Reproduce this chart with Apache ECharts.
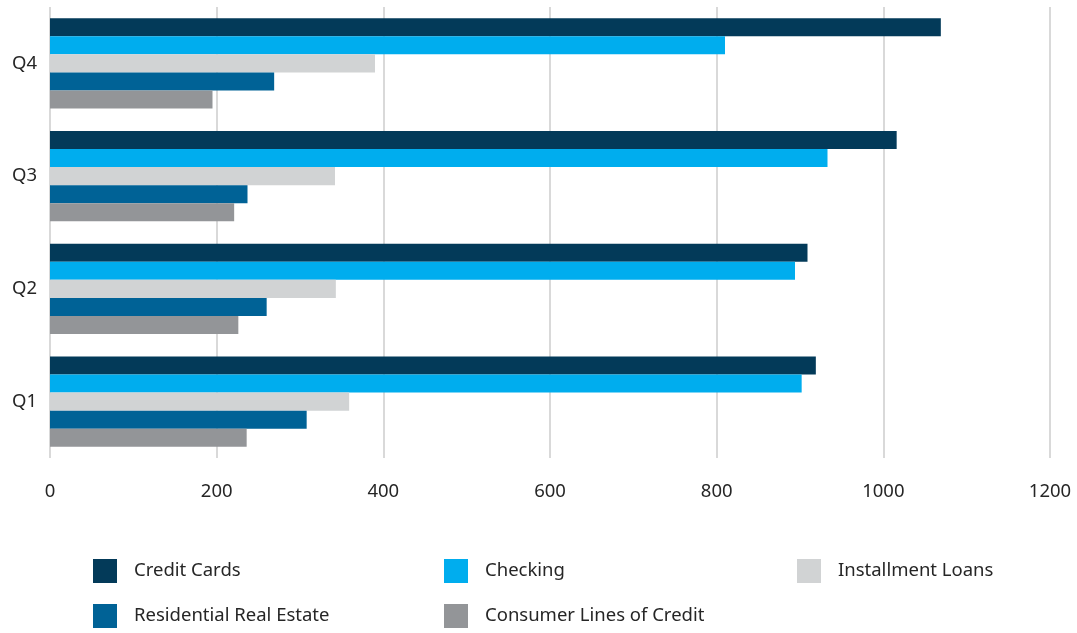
<!DOCTYPE html>
<html>
<head>
<meta charset="utf-8">
<script src="https://cdn.jsdelivr.net/npm/echarts@6/dist/echarts.min.js"></script>
<style>
	html, body { margin: 0; padding: 0; background: #fff; }
	#chart { width: 1077px; height: 633px; }
</style>
</head>
<body>
<div id="chart"></div>
<script>
// 数据
const quarters = ['Q4', 'Q3', 'Q2', 'Q1'];
const creditCards = [1069, 1016, 909, 919];
const checking = [810, 933, 894, 902];
const installmentLoans = [390, 342, 343, 359];
const residentialRealEstate = [269, 237, 260, 308];
const consumerLines = [195, 221, 226, 236];
const xTicks = [0, 200, 400, 600, 800, 1000, 1200];

const font = 'Noto Sans';
const textColor = '#262626';

const myChart = echarts.init(document.getElementById('chart'));

// 图例，每项单独定位
const legendItem = (left, top, name) => ({
	left: left,
	top: top,
	itemWidth: 24,
	itemHeight: 24,
	icon: 'rect',
	selectedMode: false,
	data: [name],
	textStyle: {
		fontFamily: font,
		fontSize: 18.5,
		color: textColor,
		padding: [2, 0, 0, 12],
	},
});

const barSeries = (name, data, color) => ({
	name: name,
	type: 'bar',
	data: data,
	barGap: '0%',
	barCategoryGap: '20%',
	itemStyle: { color: color },
});

const option = {
	animation: false,
	grid: {
		left: 50,
		right: 27,
		top: 7,
		bottom: 175,
		containLabel: false,
	},
	legend: [
		legendItem(88, 554, 'Credit Cards'),
		legendItem(439, 554, 'Checking'),
		legendItem(792, 554, 'Installment Loans'),
		legendItem(88, 599, 'Residential Real Estate'),
		legendItem(439, 599, 'Consumer Lines of Credit'),
	],
	xAxis: {
		type: 'value',
		min: xTicks[0],
		max: xTicks[xTicks.length - 1],
		interval: xTicks[1] - xTicks[0],
		axisLine: { show: false },
		axisTick: { show: false },
		axisLabel: {
			margin: 24,
			fontFamily: font,
			fontSize: 18.5,
			color: textColor,
			formatter: (v) => String(v),
		},
		splitLine: {
			lineStyle: { color: '#cccccc', width: 1.5 },
		},
	},
	yAxis: {
		type: 'category',
		inverse: true,
		data: quarters,
		axisLine: { show: false },
		axisTick: { show: false },
		axisLabel: {
			margin: 13,
			fontFamily: font,
			fontSize: 18.5,
			color: textColor,
		},
	},
	series: [
		barSeries('Credit Cards', creditCards, '#033a59'),
		barSeries('Checking', checking, '#00adee'),
		barSeries('Installment Loans', installmentLoans, '#d1d3d4'),
		barSeries('Residential Real Estate', residentialRealEstate, '#006296'),
		barSeries('Consumer Lines of Credit', consumerLines, '#939598'),
	],
};
myChart.setOption(option);
</script>
</body>
</html>
